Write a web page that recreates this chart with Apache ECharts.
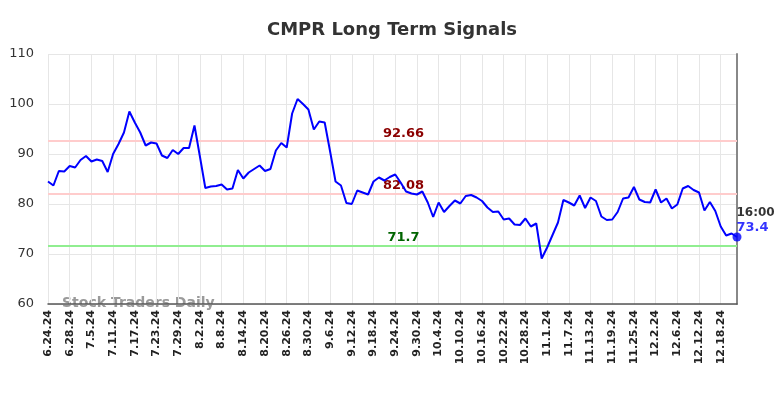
<!DOCTYPE html>
<html>
<head>
<meta charset="UTF-8">
<title>CMPR Long Term Signals</title>
<script src="https://cdn.jsdelivr.net/npm/echarts@6/dist/echarts.min.js"></script>
<style>
  html, body { margin: 0; padding: 0; background: #fff; }
  #chart { width: 784px; height: 398px; }
</style>
</head>
<body>
<div id="chart"></div>
<script>
var dates = ['6.24.24','6.25.24','6.26.24','6.27.24','6.28.24',
  '7.1.24','7.2.24','7.3.24','7.5.24','7.8.24','7.9.24','7.10.24','7.11.24','7.12.24','7.15.24','7.16.24','7.17.24','7.18.24','7.19.24','7.22.24','7.23.24','7.24.24','7.25.24','7.26.24','7.29.24','7.30.24','7.31.24',
  '8.1.24','8.2.24','8.5.24','8.6.24','8.7.24','8.8.24','8.9.24','8.12.24','8.13.24','8.14.24','8.15.24','8.16.24','8.19.24','8.20.24','8.21.24','8.22.24','8.23.24','8.26.24','8.27.24','8.28.24','8.29.24','8.30.24',
  '9.3.24','9.4.24','9.5.24','9.6.24','9.9.24','9.10.24','9.11.24','9.12.24','9.13.24','9.16.24','9.17.24','9.18.24','9.19.24','9.20.24','9.23.24','9.24.24','9.25.24','9.26.24','9.27.24','9.30.24',
  '10.1.24','10.2.24','10.3.24','10.4.24','10.7.24','10.8.24','10.9.24','10.10.24','10.11.24','10.14.24','10.15.24','10.16.24','10.17.24','10.18.24','10.21.24','10.22.24','10.23.24','10.24.24','10.25.24','10.28.24','10.29.24','10.30.24','10.31.24',
  '11.1.24','11.4.24','11.5.24','11.6.24','11.7.24','11.8.24','11.11.24','11.12.24','11.13.24','11.14.24','11.15.24','11.18.24','11.19.24','11.20.24','11.21.24','11.22.24','11.25.24','11.26.24','11.27.24','11.29.24',
  '12.2.24','12.3.24','12.4.24','12.5.24','12.6.24','12.9.24','12.10.24','12.11.24','12.12.24','12.13.24','12.16.24','12.17.24','12.18.24','12.19.24','12.20.24','12.23.24'];

var prices = [84.5,83.7,86.6,86.5,87.6,87.3,88.8,89.6,88.5,88.9,
  88.6,86.4,90.0,92.0,94.3,98.5,96.3,94.3,91.7,92.3,
  92.1,89.7,89.2,90.8,90.0,91.2,91.2,95.7,89.5,83.2,
  83.5,83.6,83.9,82.9,83.1,86.8,85.1,86.3,87.0,87.7,
  86.6,87.0,90.7,92.2,91.3,98.1,101.0,100.0,98.9,94.9,
  96.5,96.3,90.5,84.5,83.7,80.2,80.0,82.7,82.3,81.9,
  84.5,85.3,84.7,85.4,85.9,84.3,82.5,82.1,81.9,82.5,
  80.3,77.4,80.3,78.4,79.6,80.7,80.1,81.6,81.8,81.3,
  80.6,79.3,78.4,78.5,76.9,77.1,75.9,75.8,77.1,75.5,
  76.1,69.1,71.3,73.8,76.3,80.8,80.3,79.7,81.7,79.2,
  81.3,80.6,77.5,76.8,76.9,78.4,81.1,81.3,83.4,80.9,
  80.4,80.3,82.9,80.3,81.1,79.1,79.9,83.1,83.6,82.8,
  82.3,78.7,80.4,78.6,75.5,73.7,74.1,73.4];

var upperSignal = 92.66;
var midSignal = 82.08;
var lowerSignal = 71.7;
var lastTime = '16:00';

var FONT = 'DejaVu Sans';
var lastIdx = prices.length - 1;

var chart = echarts.init(document.getElementById('chart'));
chart.setOption({
  animation: false,
  title: {
    text: 'CMPR Long Term Signals',
    left: 'center',
    top: 16,
    textStyle: { fontFamily: FONT, fontSize: 18, fontWeight: 'bold', color: '#333' }
  },
  grid: { left: 48, right: 47, top: 54, bottom: 94 },
  graphic: [{
    type: 'text',
    left: 62,
    top: 296,
    style: { text: 'Stock Traders Daily', fontFamily: FONT, fontSize: 14, fontWeight: 'bold', fill: 'rgba(120,120,120,0.75)' }
  }],
  xAxis: {
    type: 'category',
    data: dates,
    boundaryGap: false,
    axisLine: { lineStyle: { color: '#555', width: 1.5 } },
    axisTick: { show: false },
    axisLabel: {
      interval: 3, rotate: 90, margin: 6,
      fontFamily: FONT, fontSize: 11, fontWeight: 'bold', color: '#222'
    },
    splitLine: { show: true, interval: 3, lineStyle: { color: '#e6e6e6', width: 1 } }
  },
  yAxis: [{
    type: 'value',
    min: 60, max: 110, interval: 10,
    axisLine: { show: false },
    axisTick: { show: false },
    axisLabel: { fontFamily: FONT, fontSize: 13, color: '#333', margin: 14 },
    splitLine: { lineStyle: { color: '#e6e6e6', width: 1 } }
  }, {
    type: 'value',
    position: 'right',
    min: 60, max: 110, interval: 10,
    axisLine: { show: true, lineStyle: { color: '#888', width: 2 } },
    axisTick: { show: false },
    axisLabel: { show: false },
    splitLine: { show: false }
  }],
  series: [{
    type: 'line',
    data: prices,
    showSymbol: false,
    lineStyle: { color: '#0000ff', width: 2 },
    itemStyle: { color: '#0000ff' },
    z: 5,
    markLine: {
      silent: true,
      symbol: 'none',
      data: [
        { yAxis: upperSignal, lineStyle: { color: '#ffcccc', width: 2, type: 'solid' },
          label: { color: '#8b0000' } },
        { yAxis: midSignal, lineStyle: { color: '#ffcccc', width: 2, type: 'solid' },
          label: { color: '#8b0000' } },
        { yAxis: lowerSignal, lineStyle: { color: '#90ee90', width: 2, type: 'solid' },
          label: { color: '#006400' } }
      ],
      label: {
        show: true,
        position: 'middle',
        formatter: function (p) { return String(p.value); },
        fontFamily: FONT, fontSize: 13, fontWeight: 'bold',
        offset: [11, 0],
        distance: 1
      }
    }
  }, {
    type: 'scatter',
    data: [[dates[lastIdx], prices[lastIdx]]],
    symbol: 'circle',
    symbolSize: 9,
    itemStyle: { color: '#0000ff' },
    z: 6,
    label: {
      show: true,
      position: [4, -27],
      formatter: function (p) { return '{t|' + lastTime + '}\n{v|' + p.value[1] + '}'; },
      rich: {
        t: { color: '#000', fontWeight: 'bold', fontSize: 12, fontFamily: FONT, lineHeight: 15 },
        v: { color: '#0000ff', fontWeight: 'bold', fontSize: 13, fontFamily: FONT, lineHeight: 15 }
      }
    }
  }]
});
</script>
</body>
</html>
